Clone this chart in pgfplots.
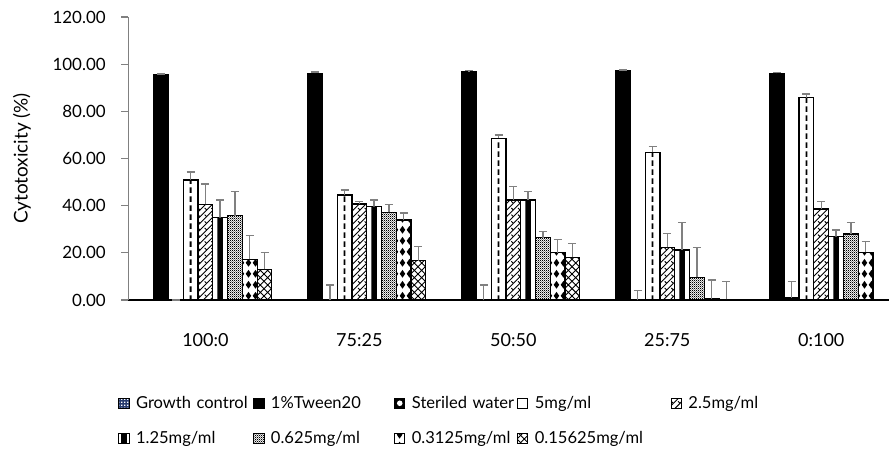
\documentclass[border=0pt]{standalone}
\usepackage{pgfplots}
\pgfplotsset{compat=1.18}
\usepackage{pgfplotstable}
\usepackage{fontspec}
\setmainfont{Lato}
\usetikzlibrary{patterns}

\pgfdeclarepatternformonly{bigcross}{\pgfqpoint{-1pt}{-1pt}}{\pgfqpoint{6.5pt}{6.5pt}}{\pgfqpoint{5.5pt}{5.5pt}}{%
  \pgfsetlinewidth{0.7pt}%
  \pgfpathmoveto{\pgfqpoint{0pt}{0pt}}\pgfpathlineto{\pgfqpoint{5.5pt}{5.5pt}}%
  \pgfpathmoveto{\pgfqpoint{0pt}{5.5pt}}\pgfpathlineto{\pgfqpoint{5.5pt}{0pt}}%
  \pgfusepath{stroke}}
\pgfdeclarepatternformonly{diamonds}{\pgfqpoint{0pt}{0pt}}{\pgfqpoint{5.6pt}{8pt}}{\pgfqpoint{5.6pt}{8pt}}{%
  \pgfpathmoveto{\pgfqpoint{2.8pt}{1pt}}\pgfpathlineto{\pgfqpoint{5pt}{4pt}}%
  \pgfpathlineto{\pgfqpoint{2.8pt}{7pt}}\pgfpathlineto{\pgfqpoint{0.6pt}{4pt}}\pgfpathclose%
  \pgfusepath{fill}}
\pgfdeclarepatternformonly{finecheck}{\pgfqpoint{0pt}{0pt}}{\pgfqpoint{1.6pt}{1.6pt}}{\pgfqpoint{1.6pt}{1.6pt}}{%
  \pgfpathrectangle{\pgfqpoint{0pt}{0pt}}{\pgfqpoint{0.8pt}{0.8pt}}%
  \pgfpathrectangle{\pgfqpoint{0.8pt}{0.8pt}}{\pgfqpoint{0.8pt}{0.8pt}}%
  \pgfusepath{fill}}
\pgfdeclarepatternformonly{zigzag}{\pgfqpoint{-1pt}{-1pt}}{\pgfqpoint{6pt}{6pt}}{\pgfqpoint{5pt}{5pt}}{%
  \pgfsetlinewidth{0.7pt}%
  \pgfpathmoveto{\pgfqpoint{0pt}{0pt}}\pgfpathlineto{\pgfqpoint{5pt}{5pt}}%
  \pgfpathmoveto{\pgfqpoint{5pt}{0pt}}\pgfpathlineto{\pgfqpoint{3.5pt}{1.5pt}}%
  \pgfusepath{stroke}}
\pgfdeclarepatternformonly{vdash}{\pgfqpoint{0pt}{0pt}}{\pgfqpoint{1pt}{7pt}}{\pgfqpoint{1pt}{7pt}}{%
  \pgfpathrectangle{\pgfqpoint{0pt}{0pt}}{\pgfqpoint{1pt}{4.5pt}}%
  \pgfusepath{fill}}
\pgfdeclarepatternformonly{wdots}{\pgfqpoint{0pt}{0pt}}{\pgfqpoint{2.4pt}{2.4pt}}{\pgfqpoint{2.4pt}{2.4pt}}{%
  \pgfpathrectangle{\pgfqpoint{0pt}{0pt}}{\pgfqpoint{1.2pt}{1.2pt}}%
  \pgfusepath{fill}}

\definecolor{gcblue}{RGB}{40,60,110}
\definecolor{errgray}{RGB}{128,128,128}

\pgfplotstableread{
x gc tw twe w we m5 m5e m25 m25e m125 m125e m0625 m0625e m03125 m03125e m015625 m015625e
0 0 95.4 0.5 0   0   50.9 3.3 40.6 8.6 34.9 7.5  35.8 10.1 17.2 10.1 13.0 7.2
1 0 96.1 0.5 0   6.4 44.5 2.1 40.7 1.0 39.6 2.8  37.2 3.4  33.9 2.9  16.7 5.9
2 0 96.8 0.5 0   6.4 68.6 1.4 42.4 5.7 42.4 3.5  26.4 2.6  20.1 5.6  18.1 5.9
3 0 97.1 0.4 0   4.0 62.6 2.4 22.3 6.0 21.2 11.7 9.6  12.7 0.5  8.0  0.3  7.5
4 0 96.1 0.4 1.0 6.8 85.8 1.6 38.6 3.1 26.9 2.8  28.0 4.9  20.2 4.5  nan  nan
}\datatable

\pgfplotsset{
  mybar/.style={ybar, bar width=0.096, bar shift=0, draw=black, line width=0.9pt,
    legend image code/.code={\draw[##1, line width=0.6pt] (0pt,-3.8pt) rectangle (7.6pt,3.8pt);},
    error bars/y dir=plus, error bars/y explicit,
    error bars/error bar style={color=errgray, line width=1.1pt, solid},
    error bars/error mark options={rotate=90, mark size=3pt, line width=1.1pt, color=errgray, solid}},
}

\begin{document}
\begin{tikzpicture}
\path[use as bounding box] (0pt,0pt) rectangle (666.75pt,337.5pt);
\begin{axis}[
  at={(96.3pt,112.5pt)}, anchor=south west,
  scale only axis, width=570.45pt, height=212.25pt,
  xmin=-0.5, xmax=4.44, ymin=0, ymax=120,
  axis x line*=bottom, axis y line*=left,
  x axis line style={-, black, line width=0.8pt},
  y axis line style={-, gray, line width=0.8pt},
  ytick={0,20,...,120},
  ytick align=outside, ytick pos=left,
  y tick style={gray, line width=0.8pt},
  major tick length=5.5pt,
  xtick={0,1,2,3,4},
  xticklabels={100:0,75:25,50:50,25:75,0:100},
  x tick style={draw=none},
  xticklabel style={anchor=center, yshift=-30pt, font=\fontsize{13.5}{15}\selectfont},
  yticklabel style={font=\fontsize{12.7}{14}\selectfont, xshift=-8pt, /pgf/number format/.cd, fixed, fixed zerofill, precision=2},
  /pgf/number format/assume math mode=true,
  every axis y label/.style={at={(axis description cs:-0.1399,0.5)}, rotate=90, anchor=center, font=\fontsize{14.2}{16}\selectfont},
  ylabel={Cytotoxicity (\%)},
  legend columns=5,
  legend cell align=left,
  legend style={at={(axis description cs:-0.0187,-0.32)}, anchor=north west, draw=none,
    font=\fontsize{12.4}{14}\selectfont, row sep=12pt,
    /tikz/every odd column/.append style={column sep=3pt},
    /tikz/column 2/.style={text width=86pt},
    /tikz/column 4/.style={text width=90.5pt},
    /tikz/column 6/.style={text width=77pt},
    /tikz/column 8/.style={text width=100pt},
  },
  clip=true,
]
\addplot[mybar, fill=gcblue, postaction={pattern=wdots, pattern color=white}, error bars/y dir=none] table[x expr=\thisrow{x}-0.384, y=gc] {\datatable};
\addlegendentry{\mbox{Growth control}}
\addplot[mybar, fill=black] table[x expr=\thisrow{x}-0.288, y=tw, y error=twe] {\datatable};
\addlegendentry{\mbox{1\%Tween20}}
\addplot[mybar, fill=black,
  legend image code/.code={\draw[fill=black, line width=0.6pt] (0pt,-3.8pt) rectangle (7.6pt,3.8pt); \fill[white] (3.8pt,0pt) circle (1.6pt);}] table[x expr=\thisrow{x}-0.192, y=w, y error=we] {\datatable};
\addlegendentry{\mbox{Steriled water}}
\addplot[mybar, fill=white] table[x expr=\thisrow{x}-0.096, y=m5, y error=m5e] {\datatable};
\addlegendentry{\mbox{5mg/ml}}
\addplot[mybar, fill=white, postaction={pattern=zigzag}] table[x=x, y=m25, y error=m25e] {\datatable};
\addlegendentry{\mbox{2.5mg/ml}}
\addplot[mybar, fill=white,
  legend image code/.code={\draw[fill=white, line width=0.6pt] (0pt,-3.8pt) rectangle (7.6pt,3.8pt); \fill[black] (2.3pt,-3.8pt) rectangle (5.3pt,3.8pt);}] table[x expr=\thisrow{x}+0.096, y=m125, y error=m125e] {\datatable};
\addlegendentry{\mbox{1.25mg/ml}}
\addplot[mybar, fill=white, postaction={pattern=finecheck}] table[x expr=\thisrow{x}+0.192, y=m0625, y error=m0625e] {\datatable};
\addlegendentry{\mbox{0.625mg/ml}}
\addplot[mybar, fill=white, postaction={pattern=diamonds}] table[x expr=\thisrow{x}+0.288, y=m03125, y error=m03125e] {\datatable};
\addlegendentry{\mbox{0.3125mg/ml}}
\addplot[mybar, fill=white, postaction={pattern=bigcross}] table[x expr=\thisrow{x}+0.384, y=m015625, y error=m015625e] {\datatable};
\addlegendentry{\mbox{0.15625mg/ml}}
% overlays: dashed centre line (5 mg/ml) and black centre stripe (1.25 mg/ml)
\addplot[ybar, bar shift=0, bar width=0.012, draw=none, pattern=vdash, forget plot] table[x expr=\thisrow{x}-0.096, y=m5] {\datatable};
\addplot[ybar, bar shift=0, bar width=0.036, draw=none, fill=black, forget plot] table[x expr=\thisrow{x}+0.096, y=m125] {\datatable};
\end{axis}
\end{tikzpicture}
\end{document}
